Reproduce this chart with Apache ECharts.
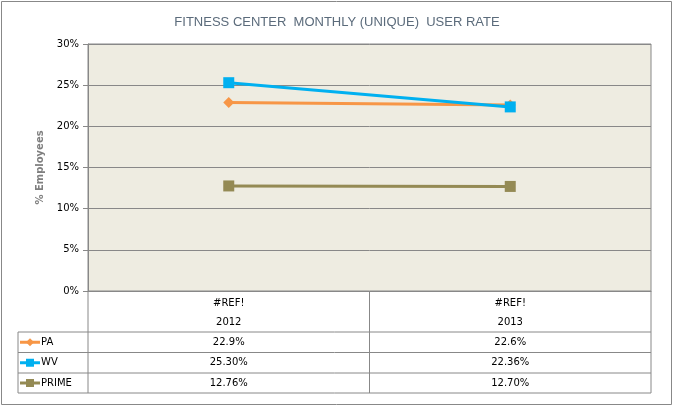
<!DOCTYPE html>
<html><head><meta charset="utf-8">
<script src="https://cdn.jsdelivr.net/npm/echarts@6/dist/echarts.min.js"></script>
<style>html,body{margin:0;padding:0;background:#fff}#c{width:674px;height:409px}</style>
</head><body><div id="c"></div>
<script>
const categories = ['2012', '2013'];
const headerTop = ['#REF!', '#REF!'];
const seriesNames = ['PA', 'WV', 'PRIME'];
const paValues = [22.9, 22.6];
const wvValues = [25.30, 22.36];
const primeValues = [12.76, 12.70];
const tableText = [['22.9%', '22.6%'], ['25.30%', '22.36%'], ['12.76%', '12.70%']];
const colors = ['#F79646', '#00B0F0', '#948A54'];
const symbols = ['diamond', 'rect', 'rect'];
const symbolSizes = [11, 11, 11];

const FONT = 'DejaVu Sans';
const chart = echarts.init(document.getElementById('c'));
const gridL = 88, gridR = 651, gridT = 44, gridB = 291;
const option = {
  animation: false,
  backgroundColor: '#fff',
  title: {
    text: 'FITNESS CENTER  MONTHLY (UNIQUE)  USER RATE',
    left: 'center', top: 11,
    textStyle: {fontFamily: 'Liberation Sans', fontSize: 13, fontWeight: 'normal', color: '#5B6B7B'}
  },
  grid: {left: gridL, right: 674 - gridR, top: gridT, bottom: 409 - gridB, show: true,
    backgroundColor: '#EEECE1', borderColor: '#888', borderWidth: 1},
  xAxis: {
    type: 'category', data: categories, boundaryGap: true,
    axisLine: {lineStyle: {color: '#888'}}, axisTick: {show: false}, axisLabel: {show: false}
  },
  yAxis: {
    type: 'value', min: 0, max: 30, interval: 5,
    name: '% Employees', nameLocation: 'middle', nameGap: 36,
    nameTextStyle: {fontFamily: FONT, fontSize: 10, fontWeight: 'bold', color: '#7F7F7F'},
    axisLine: {show: true, lineStyle: {color: '#888'}},
    axisTick: {show: true, length: 5, lineStyle: {color: '#888'}},
    axisLabel: {formatter: '{value}%', fontFamily: FONT, fontSize: 10, color: '#000', margin: 9},
    splitLine: {lineStyle: {color: '#888', width: 1}}
  },
  series: [paValues, wvValues, primeValues].map((d, i) => ({
    name: seriesNames[i], type: 'line', data: d,
    symbol: symbols[i], symbolSize: symbolSizes[i],
    lineStyle: {color: colors[i], width: 3},
    itemStyle: {color: colors[i]}
  }))
};
chart.setOption(option);

const xs = categories.map(c => chart.convertToPixel({xAxisIndex: 0}, c));
const g = [];
const lc = '#888';
function line(x1, y1, x2, y2) { g.push({type: 'line', shape: {x1, y1, x2, y2}, style: {stroke: lc, lineWidth: 1}, silent: true}); }
function text(t, x, y, align) { g.push({type: 'text', x, y, style: {text: t, fontFamily: FONT, fontSize: 10, fill: '#000', align: align || 'center', verticalAlign: 'middle'}}); }
const rowLines = [332, 352.5, 373, 393];
const legX = 18;
line(legX, rowLines[0], gridR, rowLines[0]);
line(legX, rowLines[1], gridR, rowLines[1]);
line(legX, rowLines[2], gridR, rowLines[2]);
line(legX, rowLines[3], gridR, rowLines[3]);
line(legX, rowLines[0], legX, rowLines[3]);
const mid = (xs[0] + xs[1]) / 2;
[gridL, mid, gridR].forEach(x => line(x, gridB, x, rowLines[3]));
categories.forEach((c, i) => { text(headerTop[i], xs[i], 303); text(c, xs[i], 322); });
seriesNames.forEach((n, r) => {
  const cy = (rowLines[r] + rowLines[r + 1]) / 2;
  g.push({type: 'line', shape: {x1: 20, y1: cy, x2: 40, y2: cy}, style: {stroke: colors[r], lineWidth: 3}});
  const s = r === 0 ? 7 : 8;
  if (r === 0) g.push({type: 'polygon', shape: {points: [[30, cy - 4], [34, cy], [30, cy + 4], [26, cy]]}, style: {fill: colors[r]}});
  else g.push({type: 'rect', shape: {x: 30 - s / 2, y: cy - s / 2, width: s, height: s}, style: {fill: colors[r]}});
  text(n, 41, cy, 'left');
  tableText[r].forEach((t, i) => text(t, xs[i], cy));
});
g.push({type: 'rect', shape: {x: 1.5, y: 1.5, width: 670, height: 403}, style: {fill: null, stroke: '#888', lineWidth: 1}});
chart.setOption({graphic: g});
</script></body></html>
